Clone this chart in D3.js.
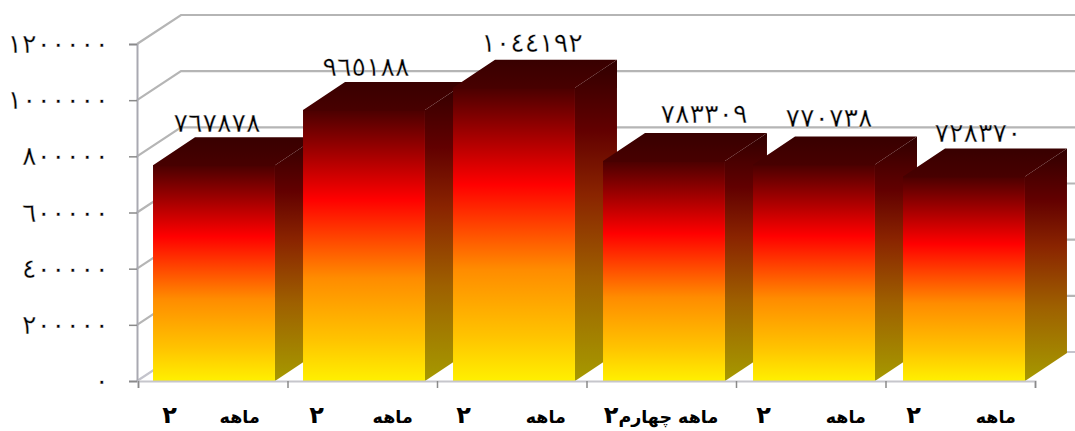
<!DOCTYPE html>
<html>
<head>
<meta charset="utf-8">
<script src="https://cdn.jsdelivr.net/npm/d3@7"></script>
<style>
html,body{margin:0;padding:0;background:#fff;overflow:hidden}
svg{display:block}
text{font-family:"DejaVu Sans",sans-serif;fill:#000}
.cat{font-weight:bold;font-size:17.5px}
.cat .num{font-size:24px}
.val{font-size:27px;stroke:#fff;stroke-width:0.35px}
.tick text{font-size:27px;stroke:#fff;stroke-width:0.35px}
</style>
</head>
<body>
<div id="chart"></div>
<script>
var gap = function (n) { return "\u00a0".repeat(n); };
var categories = ["ماهه" + gap(7), "ماهه" + gap(8), "ماهه" + gap(9), "ماهه چهارم", "ماهه" + gap(9), "ماهه" + gap(9)];
var categoryNumber = "٢";
var values = [767878, 965188, 1044192, 783309, 770738, 728370];
var yTicks = [0, 200000, 400000, 600000, 800000, 1000000, 1200000];

// hand placed data labels, dragged around in the original
var labelDx = [3, 2, 18, 40, 15, 14];
var labelDy = [-5, -6, -8, -10, -10, -6];

var width = 1075, height = 431;
var depthX = 42, depthY = -28;

var x = d3.scaleBand().domain(d3.range(values.length)).range([138, 1038]).paddingInner(0.187).paddingOuter(0.0935);
var y = d3.scaleLinear().domain([0, 1200000]).range([381, 44]);

function arabic(n){
    return String(n).replace(/[0-9]/g, function (c) { return "٠١٢٣٤٥٦٧٨٩"[+c]; });
}
function poly(pts){
    return "M" + pts.map(function (p) { return p[0] + "," + p[1]; }).join("L") + "Z";
}

var svg = d3.select("#chart").append("svg").attr("width", width).attr("height", height);
var defs = svg.append("defs");

function gradient(id, stops){
    var g = defs.append("linearGradient").attr("id", id).attr("x1", 0).attr("y1", 0).attr("x2", 0).attr("y2", 1);
    stops.forEach(function (s) {
        g.append("stop").attr("offset", s[0]).attr("stop-color", s[1]);
    });
}
gradient("front", [[0, "#4a0000"], [0.33, "#ff0000"], [0.62, "#ff8c00"], [0.85, "#ffc400"], [1, "#fff000"]]);
gradient("side", [[0, "#300000"], [0.22, "#620000"], [0.42, "#8a2400"], [0.68, "#9e6000"], [1, "#a69a00"]]);
gradient("top", [[0, "#380000"], [1, "#480000"]]);

var plot = svg.append("g").style("filter", "blur(0.6px)");

// walls
var grid = plot.append("g");
yTicks.forEach(function (t) {
    grid.append("path")
        .attr("d", "M137," + y(t) + "L" + (137 + depthX + 2) + "," + (y(t) + depthY - 1) + "L" + width + "," + (y(t) + depthY - 1))
        .attr("fill", "none")
        .attr("stroke", t == 0 ? "#c4c4cc" : "#b5b5b5")
        .attr("stroke-width", 2.2);
});

// bars, left to right so that each one hides the side of the one before
var bars = plot.selectAll(".bar").data(values).enter().append("g").attr("class", "bar");
bars.append("path")
    .attr("d", function (d, i) {
        var r = x(i) + 1 + x.bandwidth();
        return poly([[r, y(d)], [r + depthX, y(d) + depthY], [r + depthX, y(0) + depthY], [r, y(0)]]);
    })
    .attr("fill", "url(#side)");
bars.append("rect")
    .attr("x", function (d, i) { return x(i) + 1; })
    .attr("y", function (d) { return y(d); })
    .attr("width", x.bandwidth())
    .attr("height", function (d) { return y(0) - y(d); })
    .attr("fill", "url(#front)");
// top goes over the front by a pixel, otherwise a light seam shows
bars.append("path")
    .attr("d", function (d, i) {
        var l = x(i) + 1, r = l + x.bandwidth();
        return poly([[l, y(d) + 1], [l, y(d)], [l + depthX, y(d) + depthY], [r + depthX, y(d) + depthY], [r, y(d)], [r, y(d) + 1]]);
    })
    .attr("fill", "url(#top)");

// axes
var axisY = svg.append("g").attr("transform", "translate(137,0)")
    .call(d3.axisLeft(y).tickValues(yTicks).tickFormat(arabic).tickSize(8).tickPadding(20));
axisY.select(".domain").attr("stroke", "#a9a9b1").attr("stroke-width", 2);
axisY.selectAll(".tick line").attr("stroke", "#8a8a8a").attr("stroke-width", 1.5);

var tickX = d3.scaleLinear().domain([0, values.length]).range([138, 1035]);
var axisX = svg.append("g").attr("transform", "translate(0,381)")
    .call(d3.axisBottom(tickX).ticks(values.length).tickFormat("").tickSize(7));
axisX.select(".domain").attr("stroke", "#c6c6cc").attr("stroke-width", 2);
axisX.selectAll(".tick line").attr("stroke", "#8a8a8a").attr("stroke-width", 1.5);

// category labels
var cats = svg.selectAll(".cat").data(categories).enter().append("text")
    .attr("class", "cat")
    .attr("direction", "rtl")
    .attr("text-anchor", "middle")
    .attr("x", function (d, i) { return x(i) + x.bandwidth() / 2 - 2; })
    .attr("y", 423);
cats.append("tspan").text(function (d) { return d; });
cats.append("tspan").attr("class", "num").text(categoryNumber);

// data labels
svg.selectAll(".val").data(values).enter().append("text")
    .attr("class", "val")
    .attr("text-anchor", "middle")
    .attr("x", function (d, i) { return x(i) + 1 + x.bandwidth() / 2 + labelDx[i]; })
    .attr("y", function (d, i) { return y(d) + depthY + labelDy[i]; })
    .text(arabic);
</script>
</body>
</html>
